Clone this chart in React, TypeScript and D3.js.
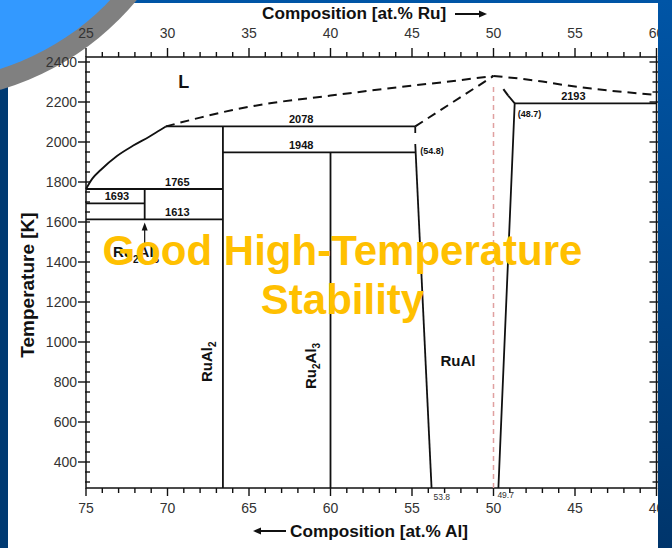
import React from "react";
import * as d3 from "d3";

type Pt = [number, number];

const W = 672;
const H = 548;
const FONT = "'Liberation Sans', Arial, Helvetica, sans-serif";

// Axis ticks
const AL_TICKS = [75, 70, 65, 60, 55, 50, 45, 40];
const RU_TICKS = [25, 30, 35, 40, 45, 50, 55, 60];
const TEMP_TICKS = [400, 600, 800, 1000, 1200, 1400, 1600, 1800, 2000, 2200, 2400];

// Phase boundaries, as [at.% Al, temperature K]
const LIQUIDUS_SOLID: Pt[] = [
  [75, 1765], [74.6, 1818], [74.1, 1860], [73.1, 1930], [72.1, 1982],
  [71.1, 2028], [70.5, 2058], [70.1, 2078],
];
const LIQUIDUS_LEFT: Pt[] = [
  [70.1, 2078], [68, 2122], [66, 2160], [63.5, 2196], [60, 2232],
  [56.5, 2268], [53, 2300], [50, 2330],
];
const LIQUIDUS_RIGHT: Pt[] = [
  [50, 2330], [48.5, 2318], [47, 2302], [45.5, 2283], [44, 2267], [42, 2250], [40, 2236],
];
const RUAL_LIQ_LEFT: Pt[] = [[54.8, 2078], [50, 2330]];
const RUAL_SOLIDUS_TOP: Pt[] = [[49.1, 2232], [50, 2330]];
const RUAL_LEFT_STUB: Pt[] = [[54.8, 2078], [54.8, 2045]];
const RUAL_LEFT_BOUND: Pt[] = [[54.8, 1990], [53.8, 270]];
const RUAL_RIGHT_BOUND: Pt[] = [[49.7, 270], [48.7, 2193], [49.1, 2232]];
const CONGRUENT: Pt[] = [[50, 270], [50, 2280]];

// Invariant reactions (isotherms)
const ISO_TEMPS = [1613, 1693, 1765, 1948, 2078, 2193];
const ISO_FROM = [75, 75, 75, 66.6, 70.1, 48.7];
const ISO_TO = [66.6, 71.4, 66.6, 54.8, 54.8, 40];
const ISO_LABEL_AL = [69.4, 73.1, 69.4, 61.8, 61.8, 45.1];

// Intermetallic line compounds
const COMPOUND_AL = [71.4, 66.6, 60];
const COMPOUND_TOP = [1765, 2078, 1948];
const COMPOUND_BOTTOM = [1613, 270, 270];

// Composition limits of RuAl
const LIMIT_VALUES = [54.8, 48.7, 53.8, 49.7];

const HEADLINE = ["Good High-Temperature", "Stability"];

const x = d3.scaleLinear().domain([75, 40]).range([86, 656.5]);
const y = d3.scaleLinear().domain([270, 2425]).range([488, 57]);

const line = d3
  .line<Pt>()
  .x((d) => x(d[0]))
  .y((d) => y(d[1]));
const curve = d3
  .line<Pt>()
  .x((d) => x(d[0]))
  .y((d) => y(d[1]))
  .curve(d3.curveMonotoneX);

export default function App() {
  const [xMin, xMax] = x.range();
  const [yBot, yTop] = y.range();
  const minorX = d3.range(75, 39.5, -1);
  const minorT = d3.range(300, 2401, 50);

  const dash = "9 6";
  const solid = { fill: "none", stroke: "#111", strokeWidth: 1.8 } as const;

  return (
    <svg
      width={W}
      height={H}
      viewBox={`0 0 ${W} ${H}`}
      style={{ position: "absolute", left: 0, top: 0, display: "block" }}
      fontFamily={FONT}
    >
      <defs>
        <linearGradient id="bg" x1="0" y1="0" x2="0" y2="1">
          <stop offset="0" stopColor="#0055a6" />
          <stop offset="1" stopColor="#00356b" />
        </linearGradient>
      </defs>
      <rect width={W} height={H} fill="url(#bg)" />
      <rect x={0} y={0} width={8} height={H} fill="#003a72" />
      <rect x={8} y={3} width={650} height={H - 3} fill="#ffffff" />

      {/* slide decoration */}
      <circle cx={-78} cy={-178} r={279} fill="#808080" />
      <circle cx={-78} cy={-178} r={259} fill="#3399ff" />

      {/* frame */}
      <rect
        x={xMin}
        y={yTop}
        width={xMax - xMin}
        height={yBot - yTop}
        fill="none"
        stroke="#111"
        strokeWidth={1.5}
      />

      {/* bottom and top ticks */}
      {minorX.map((v) => {
        const major = AL_TICKS.includes(v);
        return (
          <g key={`xt${v}`} stroke="#111" strokeWidth={1.4}>
            <line x1={x(v)} x2={x(v)} y1={yBot} y2={yBot + (major ? 8 : 5)} />
            <line x1={x(v)} x2={x(v)} y1={yTop} y2={yTop - (major ? 9 : 5)} />
          </g>
        );
      })}
      {AL_TICKS.map((v) => (
        <text key={`xl${v}`} x={x(v)} y={513} textAnchor="middle" fontSize={14} fill="#333">
          {v}
        </text>
      ))}
      {RU_TICKS.map((v) => (
        <text key={`rl${v}`} x={x(100 - v)} y={38} textAnchor="middle" fontSize={14} fill="#333">
          {v}
        </text>
      ))}

      {/* left and right ticks */}
      {minorT.map((t) => {
        const major = TEMP_TICKS.includes(t);
        return (
          <g key={`yt${t}`} stroke="#111" strokeWidth={1.4}>
            <line x1={major ? xMin - 8 : xMin - 1} x2={xMin + 4} y1={y(t)} y2={y(t)} />
            <line x1={xMax - (major ? 7 : 4)} x2={xMax + 2} y1={y(t)} y2={y(t)} />
          </g>
        );
      })}
      {TEMP_TICKS.map((t) => (
        <text key={`yl${t}`} x={77} y={y(t) + 5} textAnchor="end" fontSize={14} fill="#333">
          {t}
        </text>
      ))}

      {/* axis titles */}
      <text x={262} y={19} fontSize={17.2} fontWeight="bold" fill="#111">
        Composition [at.% Ru]
      </text>
      <line x1={455} x2={481} y1={14} y2={14} stroke="#111" strokeWidth={2} />
      <path d="M487,14 L479,10.5 L479,17.5 Z" fill="#111" />

      <text x={290} y={537} fontSize={17.2} fontWeight="bold" fill="#111">
        Composition [at.% Al]
      </text>
      <line x1={259} x2={286} y1={531} y2={531} stroke="#111" strokeWidth={2} />
      <path d="M253,531 L261,527.5 L261,534.5 Z" fill="#111" />

      <text
        transform="translate(34,285) rotate(-90)"
        textAnchor="middle"
        fontSize={19}
        fontWeight="bold"
        fill="#111"
      >
        Temperature [K]
      </text>

      {/* liquidus */}
      <path d={curve(LIQUIDUS_SOLID) ?? ""} {...solid} />
      <path d={curve(LIQUIDUS_LEFT) ?? ""} {...solid} strokeWidth={2} strokeDasharray={dash} />
      <path d={curve(LIQUIDUS_RIGHT) ?? ""} {...solid} strokeWidth={2} strokeDasharray={dash} />
      <path d={line(RUAL_LIQ_LEFT) ?? ""} {...solid} strokeWidth={2} strokeDasharray={dash} />
      <path d={line(RUAL_SOLIDUS_TOP) ?? ""} {...solid} strokeWidth={2} strokeDasharray="8 20" />

      {/* congruent melting composition */}
      <path d={line(CONGRUENT) ?? ""} fill="none" stroke="#e0a0a0" strokeWidth={1.5} strokeDasharray="5 4" />

      {/* RuAl homogeneity range */}
      <path d={line(RUAL_LEFT_STUB) ?? ""} {...solid} />
      <path d={line(RUAL_LEFT_BOUND) ?? ""} {...solid} />
      <path d={line(RUAL_RIGHT_BOUND) ?? ""} {...solid} />

      {/* isotherms */}
      {ISO_TEMPS.map((t, i) => (
        <g key={`iso${t}`}>
          <path d={line([[ISO_FROM[i], t], [ISO_TO[i], t]]) ?? ""} {...solid} />
          <text
            x={x(ISO_LABEL_AL[i])}
            y={y(t) - 3}
            textAnchor="middle"
            fontSize={11}
            fontWeight="bold"
            fill="#111"
          >
            {t}
          </text>
        </g>
      ))}

      {/* compounds */}
      {COMPOUND_AL.map((a, i) => (
        <path
          key={`cmp${a}`}
          d={line([[a, COMPOUND_TOP[i]], [a, COMPOUND_BOTTOM[i]]]) ?? ""}
          {...solid}
        />
      ))}

      {/* limit labels */}
      <text x={x(LIMIT_VALUES[0]) + 5} y={y(1948) + 2} fontSize={9} fontWeight="bold" fill="#111">
        ({LIMIT_VALUES[0]})
      </text>
      <text x={x(LIMIT_VALUES[1]) + 3} y={y(2193) + 14} fontSize={9} fontWeight="bold" fill="#111">
        ({LIMIT_VALUES[1]})
      </text>
      <text x={x(LIMIT_VALUES[2]) + 2} y={500} fontSize={8.5} fill="#333">
        {LIMIT_VALUES[2]}
      </text>
      <text x={x(LIMIT_VALUES[3]) - 1} y={498} fontSize={8.5} fill="#333">
        {LIMIT_VALUES[3]}
      </text>

      {/* phase labels */}
      <text x={x(69.0)} y={y(2270)} textAnchor="middle" fontSize={18} fontWeight="bold" fill="#111">
        L
      </text>
      <text x={458} y={366} textAnchor="middle" fontSize={15} fontWeight="bold" fill="#111">
        RuAl
      </text>
      <text transform="translate(212,382) rotate(-90)" fontSize={15} fontWeight="bold" fill="#111">
        RuAl<tspan fontSize={10} dy={4}>2</tspan>
      </text>
      <text transform="translate(316,389) rotate(-90)" fontSize={15} fontWeight="bold" fill="#111">
        Ru<tspan fontSize={10} dy={4}>2</tspan>
        <tspan dy={-4}>Al</tspan>
        <tspan fontSize={10} dy={4}>3</tspan>
      </text>
      <text x={113} y={257} fontSize={15} fontWeight="bold" fill="#111">
        Ru<tspan fontSize={10} dy={6}>2</tspan>
        <tspan dy={-6}>Al</tspan>
        <tspan fontSize={10} dy={6}>5</tspan>
      </text>
      <line x1={x(71.4)} x2={x(71.4)} y1={244} y2={229} stroke="#111" strokeWidth={1.2} />
      <path
        d={`M${x(71.4)},${y(1613) + 3} L${x(71.4) - 3},${y(1613) + 11} L${x(71.4) + 3},${y(1613) + 11} Z`}
        fill="#111"
      />

      {/* headline overlay */}
      {HEADLINE.map((s, i) => (
        <text
          key={s}
          x={342.5}
          y={265 + i * 49}
          textAnchor="middle"
          fontSize={42}
          fontWeight="bold"
          fill="#ffc000"
        >
          {s}
        </text>
      ))}

      {/* right slide border */}
      <rect x={658} y={0} width={14} height={H} fill="url(#bg)" />
    </svg>
  );
}
